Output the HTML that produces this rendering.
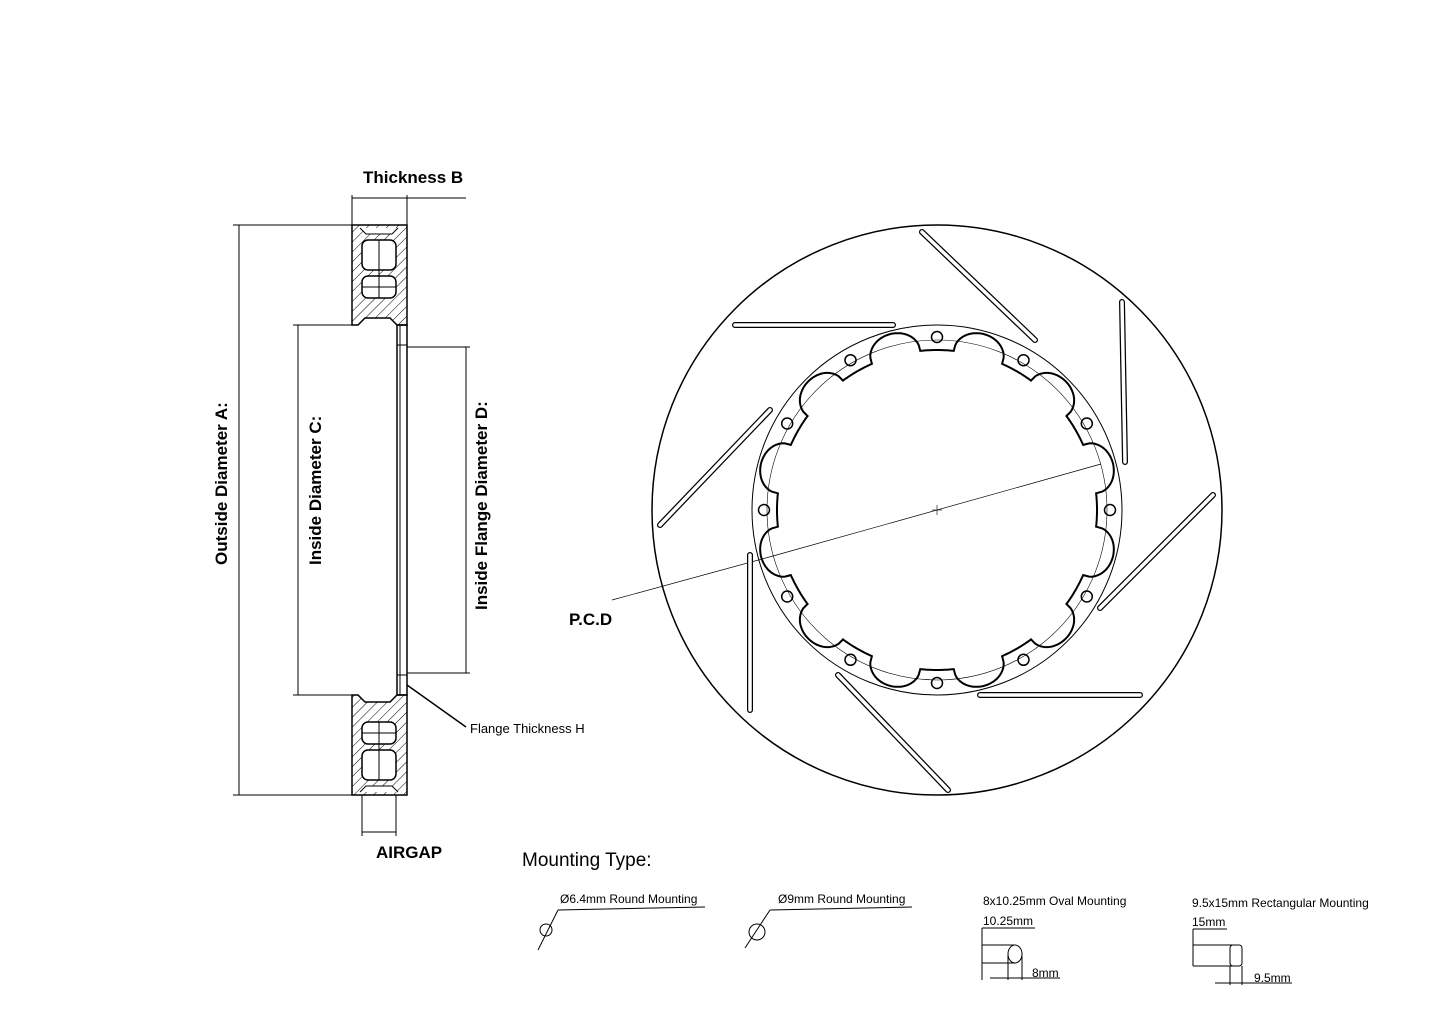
<!DOCTYPE html>
<html><head><meta charset="utf-8"><style>
html,body{margin:0;padding:0;background:#fff;}
svg{display:block;}
text{font-family:"Liberation Sans",Arial,sans-serif;fill:#000;}
</style></head><body>
<svg id="s" width="1440" height="1018" viewBox="0 0 1440 1018" xmlns="http://www.w3.org/2000/svg">
<defs>
<pattern id="h" width="7" height="7" patternUnits="userSpaceOnUse" patternTransform="rotate(45)">
<line x1="0" y1="0" x2="0" y2="7" stroke="#000" stroke-width="1"/></pattern>
</defs>
<g stroke="#000" fill="none" stroke-width="1">
<path d="M352,225 H407 V325 H397 L390,318 H365 L358,325 H352 Z" fill="url(#h)" stroke-width="1.5"/>
<rect x="362" y="240" width="34" height="30" rx="6" fill="#fff" stroke-width="1.5"/>
<rect x="362" y="276" width="34" height="22" rx="6" fill="#fff" stroke-width="1.5"/>
<line x1="379" y1="240" x2="379" y2="298"/><line x1="362" y1="287" x2="396" y2="287"/>
<path d="M360,228 L366,234 H392 L398,228" fill="#fff"/>
<path d="M352,795 H407 V695 H397 L390,702 H365 L358,695 H352 Z" fill="url(#h)" stroke-width="1.5"/>
<rect x="362" y="722" width="34" height="22" rx="6" fill="#fff" stroke-width="1.5"/>
<rect x="362" y="750" width="34" height="30" rx="6" fill="#fff" stroke-width="1.5"/>
<line x1="379" y1="722" x2="379" y2="780"/><line x1="362" y1="733" x2="396" y2="733"/>
<path d="M360,792 L366,786 H392 L398,792" fill="#fff"/>
<rect x="397" y="325" width="10" height="370" stroke-width="1.5"/>
<line x1="400" y1="325" x2="400" y2="695"/>
<line x1="397" y1="345" x2="407" y2="345"/><line x1="397" y1="675" x2="407" y2="675"/>
<line x1="352" y1="225" x2="352" y2="195"/><line x1="407" y1="225" x2="407" y2="195"/>
<line x1="352" y1="198" x2="466" y2="198"/>
<line x1="352" y1="225" x2="233" y2="225"/><line x1="352" y1="795" x2="233" y2="795"/>
<line x1="239" y1="225" x2="239" y2="795"/>
<line x1="352" y1="325" x2="293" y2="325"/><line x1="352" y1="695" x2="293" y2="695"/>
<line x1="298" y1="325" x2="298" y2="695"/>
<line x1="407" y1="347" x2="470" y2="347"/><line x1="407" y1="673" x2="470" y2="673"/>
<line x1="466" y1="347" x2="466" y2="673"/>
<line x1="362" y1="795" x2="362" y2="836"/><line x1="396" y1="795" x2="396" y2="836"/>
<line x1="362" y1="832" x2="396" y2="832"/>
<line x1="407" y1="685" x2="466" y2="727" stroke-width="1.5"/>
<circle cx="937" cy="510" r="285" stroke-width="1.5"/>
<circle cx="937" cy="510" r="185"/>
<circle cx="937" cy="510" r="170" stroke-width="0.6"/>
<line x1="773" y1="556" x2="1101" y2="464" stroke-width="0.7"/>
<line x1="773" y1="556" x2="612" y2="600" stroke-width="0.7"/>
<line x1="932" y1="510" x2="942" y2="510" stroke-width="0.6"/><line x1="937" y1="505" x2="937" y2="515" stroke-width="0.6"/>
<path id="sc" stroke-width="2"/>
<g stroke-width="1.5">
<circle cx="1110" cy="510" r="5.5"/><circle cx="1086.8" cy="596.5" r="5.5"/><circle cx="1023.5" cy="659.8" r="5.5"/>
<circle cx="937" cy="683" r="5.5"/><circle cx="850.5" cy="659.8" r="5.5"/><circle cx="787.2" cy="596.5" r="5.5"/>
<circle cx="764" cy="510" r="5.5"/><circle cx="787.2" cy="423.5" r="5.5"/><circle cx="850.5" cy="360.2" r="5.5"/>
<circle cx="937" cy="337" r="5.5"/><circle cx="1023.5" cy="360.2" r="5.5"/><circle cx="1086.8" cy="423.5" r="5.5"/>
</g>
<g stroke-linecap="round">
<g stroke="#000" stroke-width="6">
<line x1="922" y1="232" x2="1035" y2="340"/><line x1="1122" y1="302" x2="1125" y2="462"/>
<line x1="1213" y1="495" x2="1100" y2="608"/><line x1="980" y1="695" x2="1140" y2="695"/>
<line x1="838" y1="675" x2="948" y2="790"/><line x1="750" y1="555" x2="750" y2="710"/>
<line x1="660" y1="525" x2="770" y2="410"/><line x1="735" y1="325" x2="893" y2="325"/>
</g>
<g stroke="#fff" stroke-width="3.5">
<line x1="922" y1="232" x2="1035" y2="340"/><line x1="1122" y1="302" x2="1125" y2="462"/>
<line x1="1213" y1="495" x2="1100" y2="608"/><line x1="980" y1="695" x2="1140" y2="695"/>
<line x1="838" y1="675" x2="948" y2="790"/><line x1="750" y1="555" x2="750" y2="710"/>
<line x1="660" y1="525" x2="770" y2="410"/><line x1="735" y1="325" x2="893" y2="325"/>
</g>
</g>
<line x1="538" y1="950" x2="558" y2="910"/><line x1="558" y1="910" x2="705" y2="907"/>
<circle cx="546" cy="930" r="6"/>
<line x1="745" y1="948" x2="770" y2="910"/><line x1="770" y1="910" x2="912" y2="907"/>
<circle cx="757" cy="932" r="8"/>
<line x1="982" y1="928" x2="1035" y2="928"/><line x1="982" y1="928" x2="982" y2="980"/>
<line x1="982" y1="945" x2="1015" y2="945"/><line x1="982" y1="963" x2="1015" y2="963"/>
<ellipse cx="1015" cy="954" rx="7" ry="9"/>
<line x1="1008" y1="954" x2="1008" y2="980"/><line x1="1022" y1="954" x2="1022" y2="980"/>
<line x1="990" y1="978" x2="1060" y2="978"/>
<line x1="1193" y1="929" x2="1227" y2="929"/><line x1="1193" y1="929" x2="1193" y2="966"/>
<line x1="1193" y1="945" x2="1235" y2="945"/><line x1="1193" y1="966" x2="1235" y2="966"/>
<rect x="1230" y="945" width="12" height="21" rx="3"/>
<line x1="1230" y1="966" x2="1230" y2="985"/><line x1="1242" y1="966" x2="1242" y2="985"/>
<line x1="1215" y1="983" x2="1292" y2="983"/>
</g>
<text x="363" y="183" font-size="17" font-weight="bold">Thickness B</text>
<text x="227" y="565" font-size="17" font-weight="bold" transform="rotate(-90 227 565)">Outside Diameter A:</text>
<text x="321" y="565" font-size="17" font-weight="bold" transform="rotate(-90 321 565)">Inside Diameter C:</text>
<text x="487" y="610" font-size="17" font-weight="bold" transform="rotate(-90 487 610)">Inside Flange Diameter D:</text>
<text x="376" y="858" font-size="17" font-weight="bold">AIRGAP</text>
<text x="470" y="733" font-size="13">Flange Thickness H</text>
<text x="569" y="625" font-size="17" font-weight="bold">P.C.D</text>
<text x="522" y="866" font-size="19">Mounting Type:</text>
<text x="560" y="903" font-size="12">Ø6.4mm Round Mounting</text>
<text x="778" y="903" font-size="12">Ø9mm Round Mounting</text>
<text x="983" y="905" font-size="12">8x10.25mm Oval Mounting</text>
<text x="983" y="925" font-size="12">10.25mm</text>
<text x="1032" y="977" font-size="12">8mm</text>
<text x="1192" y="907" font-size="12">9.5x15mm Rectangular Mounting</text>
<text x="1192" y="926" font-size="12">15mm</text>
<text x="1254" y="982" font-size="12">9.5mm</text>
<script>
var cx=937,cy=510,d="",N=1080;
for(var i=0;i<=N;i++){var t=i/N*2*Math.PI;var deg=(t*180/Math.PI)%30;var p=Math.abs(deg-15);
var r;if(p>9){r=160;}else{r=160+22*Math.sqrt(1-Math.pow(p/9,2));}
d+=(i?"L":"M")+(cx+r*Math.cos(t)).toFixed(1)+","+(cy+r*Math.sin(t)).toFixed(1);}
document.getElementById("sc").setAttribute("d",d+"Z");
</script>
</svg>
</body></html>
